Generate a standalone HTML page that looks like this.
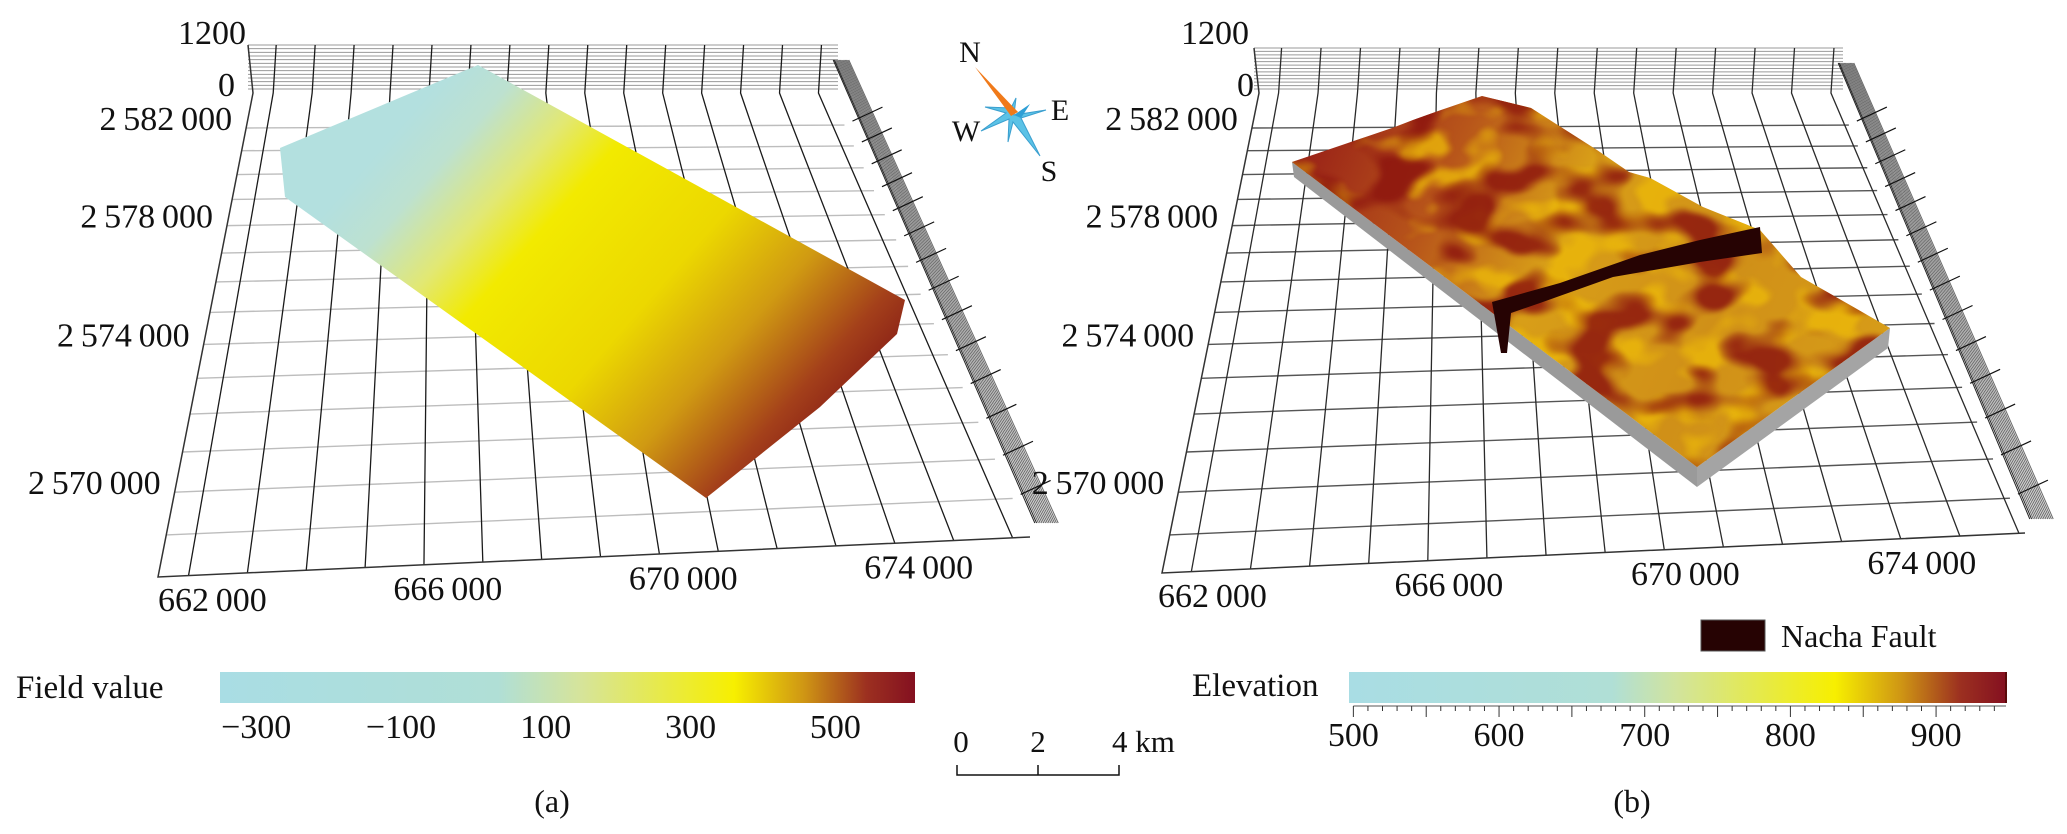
<!DOCTYPE html>
<html><head><meta charset="utf-8">
<style>
html,body{margin:0;padding:0;background:#fff;}
svg{display:block;}
text{font-family:"Liberation Serif","Times New Roman",serif;fill:#111;}
</style></head>
<body>
<svg id="fig" xmlns="http://www.w3.org/2000/svg" width="2067" height="834" viewBox="0 0 2067 834">
<defs>
  <linearGradient id="blockGrad" gradientUnits="userSpaceOnUse" x1="450" y1="70" x2="860" y2="430">
    <stop offset="0" stop-color="#b3e0df"/>
    <stop offset="0.1" stop-color="#bde1d0"/>
    <stop offset="0.22" stop-color="#e2e872"/>
    <stop offset="0.32" stop-color="#f2ea00"/>
    <stop offset="0.55" stop-color="#ecd800"/>
    <stop offset="0.72" stop-color="#d09a12"/>
    <stop offset="0.87" stop-color="#a4401a"/>
    <stop offset="1" stop-color="#7e1216"/>
  </linearGradient>
  <linearGradient id="fieldGrad" x1="0" y1="0" x2="1" y2="0">
    <stop offset="0" stop-color="#a9dde4"/>
    <stop offset="0.4" stop-color="#b0dfd6"/>
    <stop offset="0.52" stop-color="#d6e49a"/>
    <stop offset="0.74" stop-color="#f7ef00"/>
    <stop offset="0.84" stop-color="#cf9614"/>
    <stop offset="0.93" stop-color="#9c3020"/>
    <stop offset="1" stop-color="#841020"/>
  </linearGradient>
  <linearGradient id="elevGrad" x1="0" y1="0" x2="1" y2="0">
    <stop offset="0" stop-color="#a9dde4"/>
    <stop offset="0.4" stop-color="#b0dfd6"/>
    <stop offset="0.5" stop-color="#d2e49c"/>
    <stop offset="0.74" stop-color="#f7ef00"/>
    <stop offset="0.84" stop-color="#cf9614"/>
    <stop offset="0.93" stop-color="#9c3020"/>
    <stop offset="1" stop-color="#841020"/>
  </linearGradient>
  <linearGradient id="slabBase" gradientUnits="userSpaceOnUse" x1="1300" y1="160" x2="1880" y2="420">
    <stop offset="0" stop-color="#9a2218"/>
    <stop offset="0.22" stop-color="#b8561a"/>
    <stop offset="0.42" stop-color="#d89e18"/>
    <stop offset="0.7" stop-color="#d09018"/>
    <stop offset="1" stop-color="#d89e18"/>
  </linearGradient>
  <filter id="noiseRed" x="0" y="0" width="1" height="1" color-interpolation-filters="sRGB">
    <feTurbulence type="fractalNoise" baseFrequency="0.016 0.024" numOctaves="2" seed="7" result="n"/>
    <feColorMatrix in="n" type="matrix" values="0 0 0 0 0.55  0 0 0 0 0.08  0 0 0 0 0.06  6 0 0 0 -2.9"/>
    <feGaussianBlur stdDeviation="1.5"/>
  </filter>
  <filter id="noiseYel" x="0" y="0" width="1" height="1" color-interpolation-filters="sRGB">
    <feTurbulence type="fractalNoise" baseFrequency="0.022 0.03" numOctaves="2" seed="19" result="n"/>
    <feColorMatrix in="n" type="matrix" values="0 0 0 0 0.92  0 0 0 0 0.72  0 0 0 0 0.04  0 6 0 0 -3.0"/>
    <feGaussianBlur stdDeviation="1.5"/>
  </filter>
  <clipPath id="slabClip">
    <polygon points="1292,162 1392,128 1413,120 1441,110 1482,96 1531,108 1597,150 1629,172 1650,178 1703,207 1760,230 1801,277 1890,328 1697,467"/>
  </clipPath>
</defs>
<g id="panelA"></g>
<g id="panelB"></g>

<polygon points="478,65 905,300 897,334 820,407 706,498 285,197 280,148" fill="url(#blockGrad)"/>

<g>
  <polygon points="1292,162 1697,467 1697,487 1294,177" fill="#9a9a9a"/>
  <polygon points="1697,467 1890,328 1888,348 1697,487" fill="#a4a4a4"/>
  <g clip-path="url(#slabClip)">
    <rect x="1280" y="90" width="620" height="390" fill="url(#slabBase)"/>
    <rect x="1280" y="90" width="620" height="390" filter="url(#noiseYel)" opacity="0.8"/>
    <rect x="1280" y="90" width="620" height="390" filter="url(#noiseRed)" opacity="0.85"/>
  </g>
  <polygon points="1492,302 1560,283 1640,255 1700,240 1760,227 1762,253 1700,262 1613,277 1540,303 1511,313 1507,353 1501,353" fill="#260303"/>
</g>

<g>
  <polygon points="1014,115 1046,110 1021,118 1040,156 1013,122 1008,142 1009,119 981,131 1006,113 985,107 1011,108 1016,98" fill="#5bc2e6" stroke="#3a9fcf" stroke-width="1"/>
  <polygon points="1014,115 1030,104 1021,118 1014,115" fill="#2e9fd6"/>
  <polygon points="975,67 1018,112 1011,116" fill="#f07a1a"/>
  <text x="970" y="62" font-size="30" text-anchor="middle">N</text>
  <text x="1060" y="120" font-size="30" text-anchor="middle">E</text>
  <text x="966" y="141" font-size="30" text-anchor="middle">W</text>
  <text x="1049" y="181" font-size="30" text-anchor="middle">S</text>
</g>

<g>
  <text x="16" y="698" font-size="33">Field value</text>
  <rect x="220" y="672" width="695" height="31" fill="url(#fieldGrad)"/>
  <g id="fieldTicks"></g>
</g>

<g>
  <text x="961" y="752" font-size="31" text-anchor="middle">0</text>
  <text x="1038" y="752" font-size="31" text-anchor="middle">2</text>
  <text x="1112" y="752" font-size="31">4 km</text>
  <path d="M957,765 V775 H1119 V765 M1038,765 V775" fill="none" stroke="#111" stroke-width="1.5"/>
</g>

<text x="552" y="812" font-size="32" text-anchor="middle">(a)</text>
<text x="1632" y="812" font-size="32" text-anchor="middle">(b)</text>

<g>
  <rect x="1701" y="620" width="64" height="31" fill="#260303" stroke="#555" stroke-width="1"/>
  <text x="1781" y="647" font-size="32">Nacha Fault</text>
</g>

<g>
  <text x="1192" y="696" font-size="33">Elevation</text>
  <rect x="1349" y="672" width="657" height="31" fill="url(#elevGrad)"/>
  <line x1="2006" y1="672" x2="2006" y2="703" stroke="#5a0a0a" stroke-width="2"/>
  <g id="elevTicks"></g>
</g>

<script>
const eastingLines = [661000,662000,663000,664000,665000,666000,667000,668000,669000,670000,671000,672000,673000,674000,675000];
const eastingLabels = [662000,666000,670000,674000];
const northingLines = [2582000,2581000,2580000,2579000,2578000,2577000,2576000,2575000,2574000,2573000,2572000,2571000,2570000,2569000];
const northingLabels = [2582000,2578000,2574000,2570000];
const zLabels = [1200,0];
const fieldTicks = [-300,-100,100,300,500];
const fieldDomain = [-350,610];
const elevTicks = [500,600,700,800,900];
const elevDomain = [497,948];

const NS = 'http://www.w3.org/2000/svg';
function el(tag, parent){ const e = document.createElementNS(NS, tag); parent.appendChild(e); return e; }
function fmt(n){ const s = String(n); if (s.length <= 4) return s; return s.replace(/\B(?=(\d{3})+(?!\d))/g, '\u2009'); }

const panels = [
  {id:'panelA', TL:[253,93], TR:[830,93], BL:[158,577], BR:[1030,537], wallTop:45, u0:0.035, du:0.0675, hCol:'#bdbdbd', vCol:'#1a1a1a', labelDx:-35, zRight:[246,235]},
  {id:'panelB', TL:[1259,93], TR:[1835,93], BL:[1162,573], BR:[2025,533], wallTop:48, u0:0.034, du:0.0685, hCol:'#555', vCol:'#2a2a2a', labelDx:-38, zRight:[1249,1254]}
];

function lerp(a,b,t){ return [a[0]+(b[0]-a[0])*t, a[1]+(b[1]-a[1])*t]; }
function P(p,u,v){ return lerp(lerp(p.TL,p.TR,u), lerp(p.BL,p.BR,u), v); }
function uOf(p,e){ return p.u0 + p.du*(e-661000)/1000; }
function vOf(p,n){ const k=(2582000-n)/1000; const y=128+22.23*k/(1-0.0223*k); return (y-93)/(p.BL[1]-93); }

panels.forEach(p => {
  const g = document.getElementById(p.id);
  for (let i=0;i<13;i++){
    const y = p.wallTop + i*(p.TL[1]-4-p.wallTop)/12;
    const ln = el('line', g);
    
    
    ln.setAttribute('x1', p.TL[0]-5); ln.setAttribute('x2', p.TR[0]+8);
    ln.setAttribute('y1', y); ln.setAttribute('y2', y);
    ln.setAttribute('stroke', '#9a9a9a'); ln.setAttribute('stroke-width','1');
  }
  northingLines.forEach(n => {
    const v = vOf(p,n); const a = P(p,0,v), b = P(p,1,v);
    const ln = el('line', g);
    
    
    ln.setAttribute('x1',a[0]); ln.setAttribute('y1',a[1]); ln.setAttribute('x2',b[0]); ln.setAttribute('y2',b[1]);
    ln.setAttribute('stroke',p.hCol); ln.setAttribute('stroke-width','1.4');
  });
  eastingLines.forEach(e => {
    const u = uOf(p,e); const a = P(p,u,0), b = P(p,u,1);
    const ln = el('polyline', g);
    
    
    ln.setAttribute('points', `${a[0]+3},${p.wallTop} ${a[0]},${a[1]} ${b[0]},${b[1]}`);
    ln.setAttribute('fill','none'); ln.setAttribute('stroke',p.vCol); ln.setAttribute('stroke-width','1.3');
  });
  const ol = el('polyline', g);
  
  
  ol.setAttribute('points', `${p.TL[0]-5},${p.wallTop} ${p.TL[0]},${p.TL[1]} ${p.BL[0]},${p.BL[1]} ${p.BR[0]},${p.BR[1]}`);
  ol.setAttribute('fill','none'); ol.setAttribute('stroke','#333'); ol.setAttribute('stroke-width','1.5');
  for (let o=8;o<=48;o+=3){
    const ln = el('line', g);
    
    
    ln.setAttribute('x1', p.TR[0]+o*0.4); ln.setAttribute('y1', p.wallTop+15);
    ln.setAttribute('x2', p.BR[0]+o*0.6); ln.setAttribute('y2', p.BR[1]-14);
    ln.setAttribute('stroke', o<12 ? '#222' : '#6a6a6a'); ln.setAttribute('stroke-width','1');
  }
  northingLines.forEach(n => {
    const v = vOf(p,n); const b = P(p,1,v);
    const ln = el('line', g);
    
    
    ln.setAttribute('x1', b[0]+8); ln.setAttribute('y1', b[1]-4);
    ln.setAttribute('x2', b[0]+38); ln.setAttribute('y2', b[1]-18);
    ln.setAttribute('stroke','#111'); ln.setAttribute('stroke-width','1.2');
  });
  eastingLabels.forEach(e => {
    const b = P(p,uOf(p,e),1);
    const t = el('text', g);
    
    
    t.setAttribute('x', b[0]+p.labelDx); t.setAttribute('y', b[1]+38);
    t.setAttribute('font-size','34'); t.setAttribute('text-anchor','middle');
    t.textContent = fmt(e);
  });
  northingLabels.forEach(n => {
    const a = P(p,0,vOf(p,n));
    const t = el('text', g);
    
    
    t.setAttribute('x', a[0]-14); t.setAttribute('y', a[1]+2);
    t.setAttribute('font-size','34'); t.setAttribute('text-anchor','end');
    t.textContent = fmt(n);
  });
  zLabels.forEach((z,i) => {
    const t = el('text', g);
    
    
    t.setAttribute('x', p.zRight[i]); t.setAttribute('y', i===0 ? 44 : 96);
    t.setAttribute('font-size','34'); t.setAttribute('text-anchor','end');
    t.textContent = String(z);
  });
});

const fg = document.getElementById('fieldTicks');
function fx(v){ return 220 + 695*(v-fieldDomain[0])/(fieldDomain[1]-fieldDomain[0]); }
fieldTicks.forEach(v => {
  const t = el('text', fg);
  
  
  t.setAttribute('x', fx(v)); t.setAttribute('y', 738);
  t.setAttribute('font-size','34'); t.setAttribute('text-anchor','middle');
  t.textContent = v < 0 ? '\u2212' + Math.abs(v) : String(v);
});

const eg = document.getElementById('elevTicks');
function ex(v){ return 1349 + 657*(v-elevDomain[0])/(elevDomain[1]-elevDomain[0]); }
const axl = el('line', eg);


axl.setAttribute('x1', ex(500)); axl.setAttribute('x2', ex(elevDomain[1])); axl.setAttribute('y1', 706); axl.setAttribute('y2', 706);
axl.setAttribute('stroke','#555'); axl.setAttribute('stroke-width','1');
for (let v=500; v<=elevDomain[1]; v+=10){
  const tk = el('line', eg);
  
  
  tk.setAttribute('x1', ex(v)); tk.setAttribute('x2', ex(v));
  tk.setAttribute('y1', 706); tk.setAttribute('y2', v%50===0 ? 717 : 711);
  tk.setAttribute('stroke','#333'); tk.setAttribute('stroke-width','1');
}
elevTicks.forEach(v => {
  const t = el('text', eg);
  
  
  t.setAttribute('x', ex(v)); t.setAttribute('y', 746);
  t.setAttribute('font-size','34'); t.setAttribute('text-anchor','middle');
  t.textContent = String(v);
});
</script>
</svg>
</body></html>
